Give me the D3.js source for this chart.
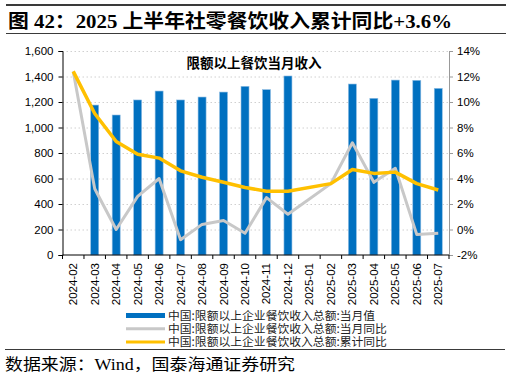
<!DOCTYPE html>
<html>
<head>
<meta charset="utf-8">
<script src="https://cdn.jsdelivr.net/npm/d3@7"></script>
<style>
  body { margin: 0; background: #fff; }
  svg text { font-family: "Liberation Sans", Arial, "Noto Sans CJK SC", sans-serif; }
</style>
</head>
<body>
<div id="chart"></div>
<script>
// data
var months = ["2024-02", "2024-03", "2024-04", "2024-05", "2024-06", "2024-07", "2024-08", "2024-09",
    "2024-10", "2024-11", "2024-12", "2025-01", "2025-02", "2025-03", "2025-04", "2025-05", "2025-06", "2025-07"];
var monthValue = [null, 1176, 1098, 1216, 1286, 1216, 1239, 1278, 1323, 1297, 1404, null, null, 1341, 1229, 1372, 1370, 1307];
var monthYoY = [12.4, 3.2, 0.0, 2.6, 4.0, -0.8, 0.4, 0.7, -0.3, 2.5, 1.2, null, 3.6, 6.8, 3.7, 4.8, -0.4, -0.3];
var cumYoY = [12.4, 9.1, 6.9, 5.9, 5.6, 4.6, 4.1, 3.7, 3.3, 3.0, 3.0, null, 3.6, 4.7, 4.4, 4.5, 3.6, 3.1];
var leftTicks = [0, 200, 400, 600, 800, 1000, 1200, 1400, 1600];
var rightTicks = [-2, 0, 2, 4, 6, 8, 10, 12, 14];
var legendNames = ["中国:限额以上企业餐饮收入总额:当月值", "中国:限额以上企业餐饮收入总额:当月同比", "中国:限额以上企业餐饮收入总额:累计同比"];

var W = 512, H = 379;
var pLeft = 62.5, pRight = 449, pTop = 51, pBottom = 255;

var svg = d3.select("#chart").append("svg")
    .attr("width", W).attr("height", H);

// header
svg.append("line").attr("x1", 6).attr("x2", 506).attr("y1", 5).attr("y2", 5)
    .attr("stroke", "#3a3a3a").attr("stroke-width", 2);
svg.append("text").attr("x", 8).attr("y", 28)
    .style("font-family", "'Liberation Serif', 'Noto Sans CJK SC', serif")
    .attr("font-size", 19).attr("font-weight", "bold")
    .attr("textLength", 444).attr("lengthAdjust", "spacingAndGlyphs")
    .text("图 42：2025 上半年社零餐饮收入累计同比+3.6%");
svg.append("line").attr("x1", 6).attr("x2", 506).attr("y1", 33.5).attr("y2", 33.5)
    .attr("stroke", "#3a3a3a").attr("stroke-width", 1);

var x = d3.scaleBand().domain(months).range([pLeft, pRight]);
var y = d3.scaleLinear().domain([0, 1600]).range([pBottom, pTop]);
var y2 = d3.scaleLinear().domain([-2, 14]).range([pBottom, pTop]);

// grid
svg.append("g").selectAll("line").data(leftTicks.slice(1)).enter().append("line")
    .attr("x1", pLeft).attr("x2", pRight)
    .attr("y1", d => y(d) + 0.5).attr("y2", d => y(d) + 0.5)
    .attr("stroke", "#d0d0d0").attr("stroke-dasharray", "1.5,2.5");

// bars
var barW = 8;
svg.append("g").selectAll("rect")
    .data(months.map((m, i) => ({ m: m, v: monthValue[i] })).filter(d => d.v != null))
    .enter().append("rect")
    .attr("x", d => x(d.m) + x.bandwidth() / 2 - barW / 2)
    .attr("y", d => y(d.v))
    .attr("width", barW)
    .attr("height", d => y(0) - y(d.v))
    .attr("fill", "#0070C0")
    .attr("stroke", "#8fbde3").attr("stroke-width", 0.6);

// lines (gaps bridged like the original)
var line = d3.line()
    .x(d => x(d.m) + x.bandwidth() / 2)
    .y(d => y2(d.v));

function pts(arr) {
    return months.map((m, i) => ({ m: m, v: arr[i] })).filter(d => d.v != null);
}

svg.append("path").datum(pts(monthYoY)).attr("d", line)
    .attr("fill", "none").attr("stroke", "#c8c8c8").attr("stroke-width", 3)
    .attr("stroke-linejoin", "round");
svg.append("path").datum(pts(cumYoY)).attr("d", line)
    .attr("fill", "none").attr("stroke", "#FFC000").attr("stroke-width", 3.5)
    .attr("stroke-linejoin", "round");

// left axis
var yAxis = d3.axisLeft(y).tickValues(leftTicks).tickSize(4).tickFormat(d3.format(","));
var gy = svg.append("g").attr("transform", `translate(${pLeft},0)`).call(yAxis);
gy.selectAll("text").attr("font-size", 11.5).attr("fill", "#000").attr("dx", "-2");
gy.select(".domain").attr("stroke", "#000");
gy.selectAll(".tick line").attr("stroke", "#000");

// right axis
var y2Axis = d3.axisRight(y2).tickValues(rightTicks).tickSize(4).tickFormat(d => d + "%");
var gy2 = svg.append("g").attr("transform", `translate(${pRight},0)`).call(y2Axis);
gy2.selectAll("text").attr("font-size", 11.5).attr("fill", "#000").attr("dx", "1");
gy2.select(".domain").attr("stroke", "#999");
gy2.selectAll(".tick line").attr("stroke", "#999");

// bottom axis: ticks at band edges, rotated labels
var gx = svg.append("g").attr("transform", `translate(0,${pBottom})`);
gx.append("line").attr("x1", pLeft).attr("x2", pRight).attr("stroke", "#000");
gx.selectAll("line.tk").data(months.concat(["end"])).enter().append("line")
    .attr("class", "tk")
    .attr("x1", (d, i) => pLeft + i * x.bandwidth()).attr("x2", (d, i) => pLeft + i * x.bandwidth())
    .attr("y1", 0).attr("y2", 4).attr("stroke", "#000");
gx.selectAll("text").data(months).enter().append("text")
    .attr("transform", d => `translate(${x(d) + x.bandwidth() / 2 + 4},8) rotate(-90)`)
    .attr("text-anchor", "end")
    .attr("font-size", 11.5)
    .text(d => d);

// annotation
svg.append("text").attr("x", 254).attr("y", 68)
    .attr("text-anchor", "middle")
    .attr("font-size", 13.5).attr("font-weight", "bold")
    .style("font-family", "'Noto Sans CJK SC', sans-serif")
    .text("限额以上餐饮当月收入");

// legend
var legend = svg.append("g").selectAll("g").data(legendNames).enter().append("g")
    .attr("transform", (d, i) => `translate(0,${315.5 + i * 13.3})`);
legend.append("line").attr("x1", 126).attr("x2", 165)
    .attr("stroke", (d, i) => ["#0070C0", "#c8c8c8", "#FFC000"][i])
    .attr("stroke-width", (d, i) => i == 0 ? 5 : 3);
legend.append("text").attr("x", 168).attr("y", 4)
    .attr("font-size", 11.8)
    .style("font-family", "'Noto Sans CJK SC', sans-serif")
    .attr("fill", "#222")
    .text(d => d);

// footer
svg.append("line").attr("x1", 5).attr("x2", 505).attr("y1", 349.5).attr("y2", 349.5)
    .attr("stroke", "#3a3a3a").attr("stroke-width", 1);
svg.append("text").attr("x", 5).attr("y", 370)
    .style("font-family", "'Liberation Serif', 'Noto Sans CJK SC', serif")
    .attr("font-size", 16)
    .attr("textLength", 290).attr("lengthAdjust", "spacingAndGlyphs")
    .text("数据来源：Wind，国泰海通证券研究");
</script>
</body>
</html>
